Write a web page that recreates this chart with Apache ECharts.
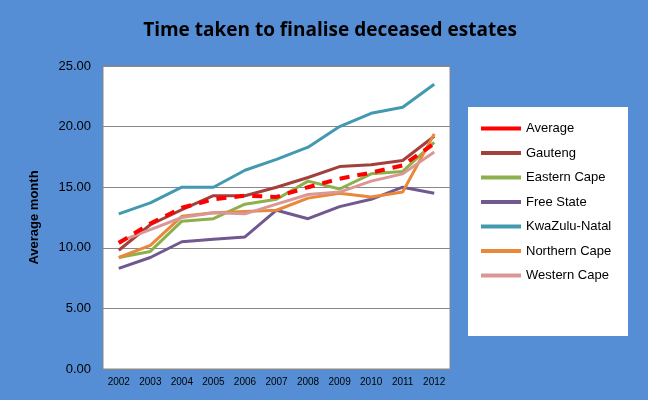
<!DOCTYPE html><html><head><meta charset="utf-8"><script src="https://cdn.jsdelivr.net/npm/echarts@6/dist/echarts.min.js"></script>
<style>body{margin:0;background:#558ED5}#c{width:648px;height:400px}</style></head><body><div id="c"></div><script>
const years=['2002','2003','2004','2005','2006','2007','2008','2009','2010','2011','2012'];
const average=[10.4,12.0,13.3,14.0,14.3,14.2,15.0,15.7,16.2,16.8,18.6];
const gauteng=[9.8,11.9,13.15,14.3,14.3,15.0,15.8,16.7,16.85,17.2,19.2];
const easternCape=[9.2,9.7,12.2,12.4,13.6,14.0,15.5,14.85,16.1,16.3,18.7];
const freeState=[8.3,9.2,10.5,10.7,10.9,13.1,12.4,13.4,14.0,15.0,14.5];
const kzn=[12.8,13.7,15.0,15.0,16.4,17.3,18.3,20.0,21.1,21.6,23.5];
const northernCape=[9.2,10.2,12.6,12.9,13.0,13.1,14.1,14.5,14.2,14.6,19.4];
const westernCape=[10.5,11.5,12.5,12.9,12.8,13.6,14.4,14.6,15.5,16.1,17.9];
const names=['Average','Gauteng','Eastern Cape','Free State','KwaZulu-Natal','Northern Cape','Western Cape'];
const data=[average,gauteng,easternCape,freeState,kzn,northernCape,westernCape];
const colors=['#FF0000','#A3403C','#8CB04C','#71588F','#4299B0','#E8883A','#D99795'];
const f='"Liberation Sans", Arial, sans-serif';
const ch=echarts.init(document.getElementById('c'));
ch.setOption({
 backgroundColor:'#558ED5',
 title:{text:'Time taken to finalise deceased estates',left:325,top:16,textAlign:'center',textStyle:{fontFamily:'"Open Sans"',fontSize:19,fontWeight:'bold',color:'#000'}},
 graphic:[{type:'rect',shape:{x:468,y:107,width:160,height:229},style:{fill:'#fff'}}],
 legend:{orient:'vertical',left:476,top:117,itemGap:11.5,itemWidth:40,itemHeight:4,icon:'rect',textStyle:{fontFamily:f,fontSize:13,color:'#000'},data:names.map((n,i)=>({name:n,itemStyle:{color:colors[i]}}))},
 grid:{left:103,top:66,width:347,height:303,show:true,backgroundColor:'#fff',borderColor:'#888',borderWidth:1},
 xAxis:{type:'category',data:years,boundaryGap:true,axisTick:{show:false},axisLine:{show:false},axisLabel:{fontFamily:f,fontSize:10,color:'#000',margin:8}},
 yAxis:{type:'value',min:0,max:25,interval:5,name:'Average month',nameLocation:'middle',nameGap:62,nameTextStyle:{fontFamily:f,fontSize:13,fontWeight:'bold',color:'#000'},axisLabel:{formatter:v=>v.toFixed(2),fontFamily:f,fontSize:13,color:'#000',margin:12},splitLine:{lineStyle:{color:'#888',width:1}},axisLine:{show:false},axisTick:{show:false}},
 series:names.map((n,i)=>({name:n,type:'line',data:data[i],symbol:'none',z:i===0?10:2,lineStyle:{color:colors[i],width:i===0?4:3,type:i===0?[10,8]:'solid'},itemStyle:{color:colors[i]}}))
});
</script></body></html>
